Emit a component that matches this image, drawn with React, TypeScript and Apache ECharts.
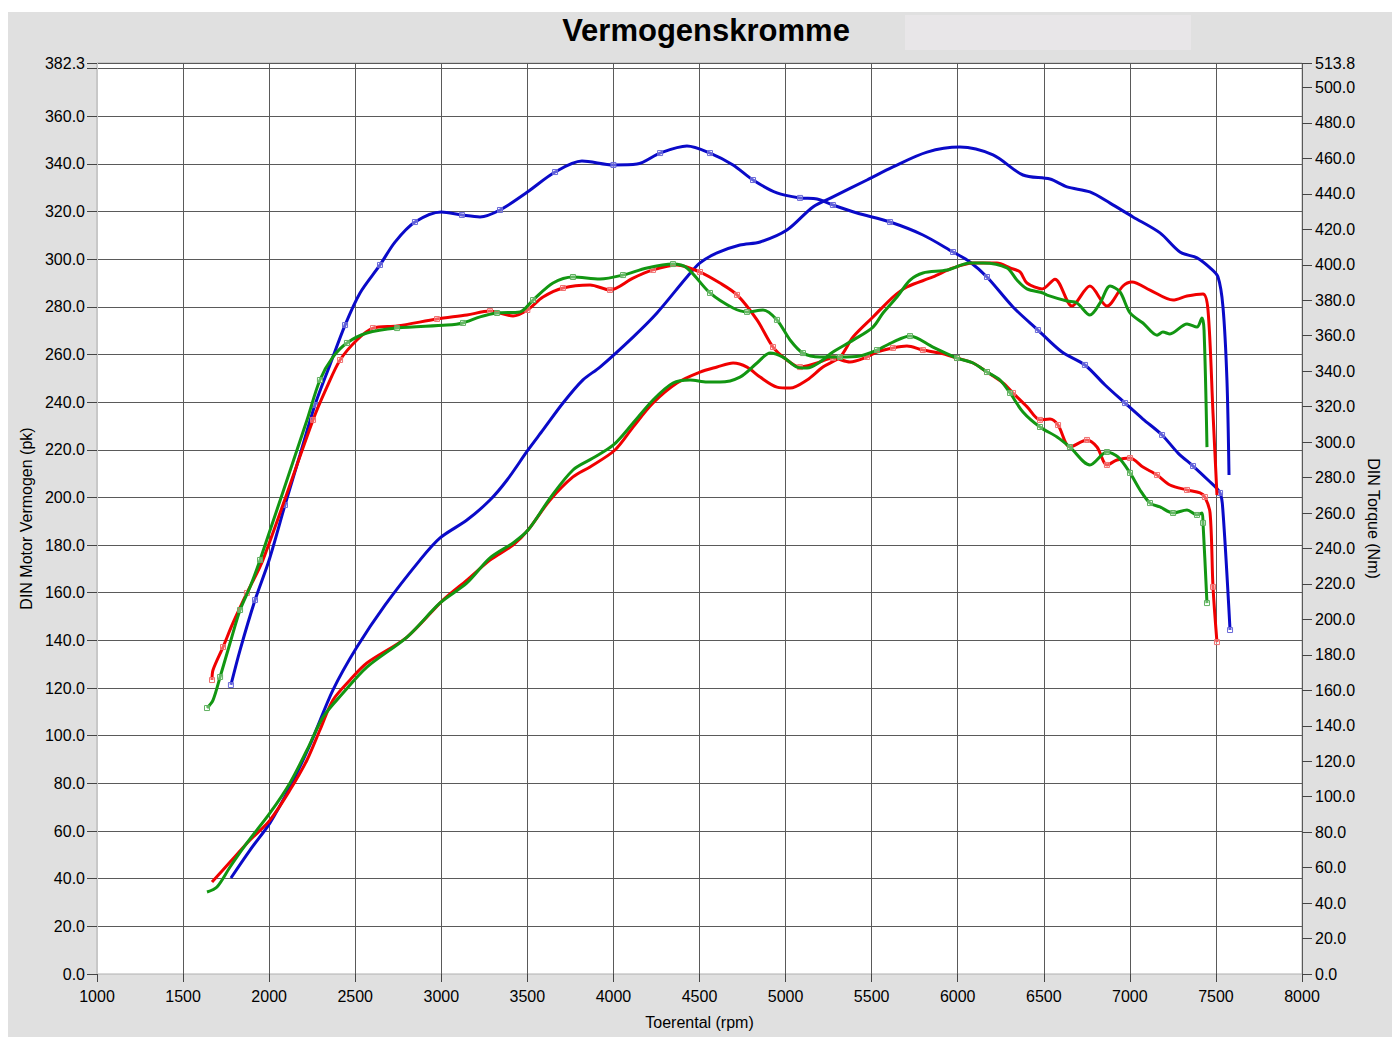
import React, { useEffect, useRef } from "react";
import * as echarts from "echarts";

// ---------- data (rpm, value) ----------
const xTicks = [1000, 1500, 2000, 2500, 3000, 3500, 4000, 4500, 5000, 5500, 6000, 6500, 7000, 7500, 8000];
const leftLabelValues = [0, 20, 40, 60, 80, 100, 120, 140, 160, 180, 200, 220, 240, 260, 280, 300, 320, 340, 360, 382.3];
const leftGridValues = [0, 20, 40, 60, 80, 100, 120, 140, 160, 180, 200, 220, 240, 260, 280, 300, 320, 340, 360, 380, 382.3];
const leftMax = 382.3;
const rightMax = 513.8;

// Blue run – power (pk)
const bluePower: [number, number][] = [
  [1778, 40.3], [1889, 52.0], [2005, 63.4], [2121, 78.5], [2237, 96.1], [2371, 119.2], [2510, 137.2],
  [2673, 154.8], [2876, 173.7], [2993, 183.0], [3149, 190.5], [3283, 198.9], [3382, 207.3], [3504, 219.9],
  [3591, 228.3], [3707, 239.6], [3823, 249.3], [3922, 254.7], [4114, 267.3], [4253, 277.4], [4427, 292.5],
  [4503, 298.4], [4602, 302.6], [4735, 305.9], [4852, 307.2], [5008, 312.2], [5159, 321.9], [5275, 326.1],
  [5473, 333.2], [5624, 338.7], [5822, 344.9], [6013, 347.0], [6205, 343.7], [6379, 335.3], [6536, 333.6],
  [6635, 330.3], [6768, 328.2], [6885, 323.5], [7018, 317.7], [7175, 311.0], [7291, 303.0], [7390, 300.5],
  [7466, 296.3], [7512, 292.5], [7541, 279.9], [7564, 249.3], [7576, 209.4],
];
// Blue run – torque (Nm)
const blueTorque: [number, number][] = [
  [1778, 163.0], [1831, 182.7], [1918, 210.9], [2000, 233.5], [2092, 264.5], [2179, 292.7], [2266, 320.9],
  [2353, 343.5], [2441, 366.0], [2528, 384.1], [2644, 399.9], [2731, 412.8], [2847, 424.1], [3000, 429.8],
  [3120, 428.1], [3225, 427.0], [3341, 430.9], [3500, 441.0], [3661, 452.3], [3817, 458.5], [4000, 456.3],
  [4137, 456.8], [4271, 463.0], [4427, 467.0], [4561, 463.0], [4695, 456.3], [4811, 447.8], [4950, 440.5],
  [5084, 437.7], [5183, 437.1], [5275, 433.7], [5415, 429.2], [5607, 424.1], [5798, 416.8], [5973, 407.2],
  [6071, 401.6], [6170, 393.1], [6321, 376.2], [6466, 363.2], [6606, 350.8], [6739, 343.5], [6856, 332.2],
  [6972, 322.0], [7076, 313.0], [7187, 304.0], [7280, 293.8], [7367, 286.5], [7454, 278.6], [7524, 271.3],
  [7541, 260.6], [7582, 194.0],
];
// Red run – power (pk)
const redPower: [number, number][] = [
  [1668, 38.6], [1773, 47.0], [1889, 56.2], [2005, 64.6], [2121, 77.2], [2220, 89.8], [2295, 102.4],
  [2371, 115.0], [2470, 123.4], [2568, 130.5], [2801, 141.4], [3010, 156.9], [3149, 165.3], [3283, 173.7],
  [3417, 180.0], [3504, 186.3], [3632, 198.9], [3765, 208.6], [3864, 212.8], [4009, 219.9], [4114, 229.5],
  [4230, 239.6], [4369, 248.0], [4503, 252.6], [4602, 254.7], [4695, 256.4], [4776, 254.7], [4852, 250.5],
  [4950, 246.3], [5026, 245.9], [5125, 249.3], [5217, 254.7], [5316, 258.9], [5392, 267.3], [5508, 275.7],
  [5624, 284.1], [5705, 288.3], [5856, 292.5], [5973, 296.3], [6089, 298.4], [6228, 298.4], [6304, 296.3],
  [6362, 294.6], [6402, 290.0], [6490, 287.5], [6565, 291.6], [6664, 280.3], [6768, 288.7], [6867, 280.3],
  [6960, 288.7], [7012, 290.4], [7117, 287.0], [7251, 282.8], [7332, 284.5], [7425, 285.4], [7454, 278.6],
  [7483, 235.4], [7506, 201.0],
];
// Red run – torque (Nm)
const redTorque: [number, number][] = [
  [1668, 165.8], [1674, 171.5], [1732, 184.4], [1790, 198.0], [1871, 214.9], [1964, 233.5], [2255, 312.5],
  [2336, 331.1], [2412, 346.3], [2510, 357.6], [2603, 364.3], [2743, 365.5], [2975, 369.4], [3149, 371.7],
  [3283, 373.9], [3417, 371.1], [3500, 374.5], [3591, 381.8], [3707, 386.9], [3864, 388.6], [3980, 385.8],
  [4114, 392.5], [4230, 397.1], [4369, 399.9], [4503, 395.9], [4619, 389.7], [4718, 383.0], [4834, 368.9],
  [4927, 353.6], [5008, 346.3], [5084, 342.3], [5183, 344.6], [5275, 347.4], [5374, 345.2], [5473, 348.0],
  [5531, 350.8], [5624, 353.1], [5705, 354.2], [5798, 351.9], [5897, 350.2], [5996, 347.4], [6089, 344.6],
  [6170, 339.5], [6263, 333.3], [6321, 327.7], [6402, 320.0], [6478, 312.5], [6536, 313.0], [6583, 309.6],
  [6652, 297.2], [6751, 301.2], [6809, 297.2], [6867, 287.1], [6925, 289.9], [7001, 291.0], [7076, 285.9],
  [7158, 281.4], [7233, 275.8], [7332, 273.0], [7408, 271.3], [7436, 269.0], [7466, 260.0], [7483, 218.3],
  [7506, 187.2],
];
// Green run – power (pk)
const greenPower: [number, number][] = [
  [1639, 34.4], [1697, 36.5], [1773, 44.9], [1871, 55.0], [2005, 67.6], [2121, 80.2], [2220, 94.0],
  [2313, 107.8], [2429, 117.9], [2568, 128.8], [2801, 141.4], [2993, 155.7], [3149, 164.1], [3283, 174.6],
  [3417, 180.9], [3504, 186.3], [3632, 199.7], [3765, 211.5], [3881, 216.5], [4000, 222.0], [4114, 231.2],
  [4230, 240.9], [4346, 248.0], [4445, 249.3], [4544, 248.4], [4619, 248.4], [4735, 250.5], [4834, 256.4],
  [4910, 260.6], [4985, 258.9], [5066, 254.7], [5125, 254.3], [5200, 256.8], [5275, 261.0], [5392, 266.0],
  [5508, 271.5], [5566, 277.4], [5647, 284.1], [5723, 291.2], [5798, 294.2], [5938, 295.4], [6071, 298.4],
  [6147, 298.4], [6286, 296.3], [6344, 291.2], [6402, 287.5], [6495, 285.8], [6519, 284.9], [6635, 282.4],
  [6693, 281.6], [6768, 276.5], [6827, 281.6], [6885, 288.7], [6943, 286.2], [7001, 277.4], [7076, 273.2],
  [7158, 268.1], [7192, 269.4], [7233, 268.6], [7332, 272.8], [7390, 271.5], [7419, 275.3], [7431, 270.2],
  [7448, 221.1],
];
// Green run – torque (Nm)
const greenTorque: [number, number][] = [
  [1639, 150.0], [1674, 154.5], [1715, 167.5], [1773, 186.7], [1831, 205.3], [1889, 218.3], [1947, 233.5],
  [2220, 312.5], [2295, 335.0], [2371, 348.0], [2452, 355.9], [2568, 361.5], [2743, 364.3], [3033, 366.0],
  [3126, 367.2], [3225, 370.6], [3324, 372.8], [3457, 373.4], [3533, 380.1], [3649, 389.7], [3765, 393.1],
  [3922, 392.0], [4056, 394.2], [4195, 398.2], [4346, 400.4], [4427, 398.2], [4561, 384.1], [4695, 375.6],
  [4776, 373.4], [4869, 374.5], [4950, 368.9], [5026, 357.6], [5101, 350.2], [5200, 348.0], [5316, 348.0],
  [5432, 348.6], [5531, 351.9], [5624, 356.4], [5723, 359.8], [5856, 353.6], [5996, 347.4], [6089, 344.6],
  [6170, 339.5], [6246, 335.0], [6304, 327.7], [6379, 317.0], [6478, 308.5], [6577, 302.9], [6652, 297.2],
  [6768, 287.1], [6867, 294.4], [6931, 291.6], [7001, 282.6], [7059, 273.0], [7117, 265.6], [7175, 263.4],
  [7251, 260.0], [7332, 261.7], [7390, 258.9], [7419, 260.0], [7425, 254.4], [7448, 209.2],
];

const titleText = "Vermogenskromme";
const xName = "Toerental (rpm)";
const leftName = "DIN Motor Vermogen (pk)";
const rightName = "DIN Torque (Nm)";

const BLUE = "#0a0ac8";
const RED = "#f00000";
const GREEN = "#129612";
const FONT = '"Liberation Sans", Arial, Helvetica, sans-serif';

function lineSeries(name: string, data: [number, number][], color: string, markColor: string, yAxisIndex: number, marks: boolean, z: number) {
  // markers (small hollow squares) on every second point of torque curves
  const items = data.map((d, i) => ({
    value: d,
    symbol: marks && (i % 2 === 0 || i === data.length - 1) ? "rect" : "none",
  }));
  return {
    name,
    type: "line",
    data: items,
    yAxisIndex,
    smooth: 0.3,
    symbol: "none",
    showSymbol: marks,
    symbolSize: 5,
    lineStyle: { color, width: 3 },
    itemStyle: { color: "rgba(255,255,255,0.35)", borderColor: markColor, borderWidth: 1 },
    emphasis: { disabled: true },
    silent: true,
    z,
  };
}

export default function App() {
  const ref = useRef<HTMLDivElement>(null);

  useEffect(() => {
    document.body.style.margin = "0";
    document.body.style.overflow = "hidden";
    if (!ref.current) return;
    const chart = echarts.init(ref.current, undefined, { renderer: "svg" });
    const option: any = {
      animation: false,
      backgroundColor: "#ffffff",
      textStyle: { fontFamily: FONT },
      graphic: [
        { type: "rect", z: -100, shape: { x: 8, y: 12, width: 1384, height: 1025 }, style: { fill: "#e0e0e0" }, silent: true },
        { type: "rect", z: -90, shape: { x: 905, y: 15, width: 286, height: 35 }, style: { fill: "#e8e6e8" }, silent: true },
        {
          type: "text", x: 706, y: 30, z: 10,
          style: { text: titleText, font: `bold 31px ${FONT}`, fill: "#000", textAlign: "center", textVerticalAlign: "middle" },
          silent: true,
        },
      ],
      grid: {
        left: 97, right: 90, top: 63, bottom: 63,
        show: true, backgroundColor: "#ffffff", borderColor: "#b0b0b0", borderWidth: 1,
      },
      xAxis: {
        type: "value",
        min: xTicks[0],
        max: xTicks[xTicks.length - 1],
        interval: 500,
        name: xName,
        nameLocation: "middle",
        nameGap: 40,
        nameTextStyle: { fontSize: 16, color: "#000", fontFamily: FONT },
        axisLine: { show: true, lineStyle: { color: "#c8c8c8", width: 1 } },
        axisTick: { show: true, length: 8, inside: false, lineStyle: { color: "#444" } },
        axisLabel: { fontSize: 16, color: "#000", margin: 14, fontFamily: FONT, formatter: (v: number) => String(v) },
        splitLine: { show: true, lineStyle: { color: "#5a5a5a", width: 1 } },
      },
      yAxis: [
        {
          type: "value",
          min: 0,
          max: leftMax,
          interval: 20,
          position: "left",
          name: leftName,
          nameLocation: "middle",
          nameGap: 60,
          nameTextStyle: { fontSize: 16, color: "#000", fontFamily: FONT },
          axisLine: { show: true, lineStyle: { color: "#c8c8c8", width: 1 } },
          axisTick: { show: true, length: 10, inside: false, lineStyle: { color: "#444" }, customValues: leftGridValues },
          axisLabel: {
            fontSize: 16, color: "#000", margin: 12, fontFamily: FONT,
            customValues: leftLabelValues,
            formatter: (v: number) => (Math.abs(v - 380) < 0.01 ? "" : v.toFixed(1)),
          },
          splitLine: { show: true, lineStyle: { color: "#5a5a5a", width: 1 } },
        },
        {
          type: "value",
          min: 0,
          max: rightMax,
          interval: 20,
          position: "right",
          name: rightName,
          nameLocation: "middle",
          nameGap: 58,
          nameRotate: -90,
          nameTextStyle: { fontSize: 16, color: "#000", fontFamily: FONT },
          axisLine: { show: false },
          axisTick: { show: true, length: 10, inside: false, lineStyle: { color: "#444" } },
          axisLabel: { fontSize: 16, color: "#000", margin: 13, fontFamily: FONT, formatter: (v: number) => v.toFixed(1) },
          splitLine: { show: false },
        },
      ],
      series: [
        lineSeries("Blue torque", blueTorque, BLUE, "#6a6ad8", 1, true, 3),
        lineSeries("Blue power", bluePower, BLUE, "#6a6ad8", 0, false, 3),
        lineSeries("Red torque", redTorque, RED, "#f07070", 1, true, 4),
        lineSeries("Red power", redPower, RED, "#f07070", 0, false, 4),
        lineSeries("Green torque", greenTorque, GREEN, "#60b060", 1, true, 5),
        lineSeries("Green power", greenPower, GREEN, "#60b060", 0, false, 5),
      ],
    };
    chart.setOption(option);
    return () => chart.dispose();
  }, []);

  return (
    <div
      ref={ref}
      style={{ position: "absolute", left: 0, top: 0, width: 1392, height: 1037 }}
    />
  );
}
